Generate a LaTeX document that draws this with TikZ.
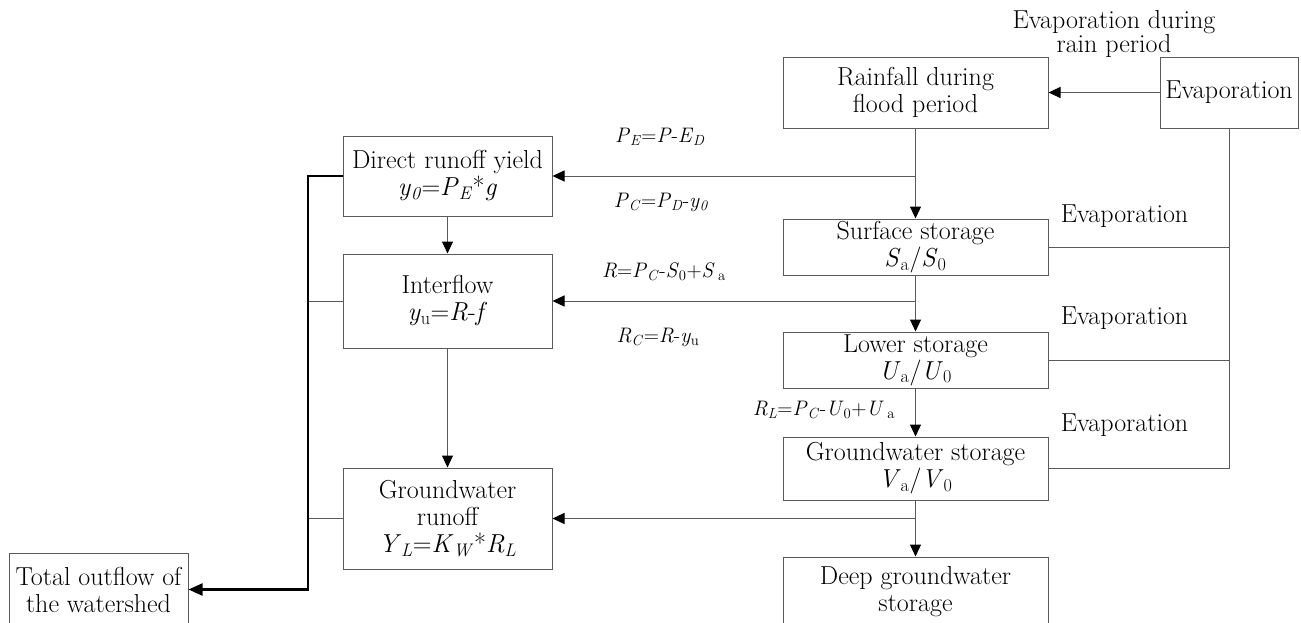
\documentclass[tikz,border=0pt]{standalone}
\usetikzlibrary{arrows.meta}
\definecolor{ln}{HTML}{5A5A5A}
\newcommand{\mi}[1]{\textit{#1}}
\newcommand{\msb}[1]{\textsubscript{#1}}
\begin{document}
\begin{tikzpicture}[x=1pt,y=-1pt,
  box/.style={draw=ln,line width=1pt,align=center,inner sep=0pt,font=\fontsize{26}{27}\selectfont},
  lbl/.style={align=center,inner sep=0pt,font=\fontsize{26}{24}\selectfont},
  flbl/.style={inner sep=0pt,font=\fontsize{21}{25}\selectfont},
  conn/.style={draw=ln,line width=1pt},
  arr/.style={conn,-{Triangle[length=12pt,width=11pt,color=black]}},
  thk/.style={draw=black,line width=2.2pt},
  thkarr/.style={thk,-{Triangle[length=14pt,width=12pt]}}]
\useasboundingbox (0,0) rectangle (1301,622);
% nodes
\node[box,minimum width=265pt,minimum height=71pt] (rain) at (915.5,92.5) {Rainfall during\\flood period};
\node[box,minimum width=138pt,minimum height=71pt] (evap) at (1229,92.5) {Evaporation};
\node[box,minimum width=265pt,minimum height=56pt] (surf) at (915.5,247) {Surface storage\\\mi{S}\msb{a}/\mi{S}\msb{0}};
\node[box,minimum width=265pt,minimum height=56pt] (lower) at (915.5,360) {Lower storage\\\mi{U}\msb{a}/\mi{U}\msb{0}};
\node[box,minimum width=265pt,minimum height=63pt] (gws) at (915.5,468.5) {Groundwater storage\\\mi{V}\msb{a}/\mi{V}\msb{0}};
\node[box,minimum width=265pt,minimum height=69pt] (deep) at (915.5,591.5) {Deep groundwater\\storage};
\node[box,minimum width=209pt,minimum height=80pt] (direct) at (447.5,176) {Direct runoff yield\\\mi{y}\msb{\mi{0}}=\mi{P}\msb{\mi{E}}*\mi{g}};
\node[box,minimum width=209pt,minimum height=94pt] (inter) at (447.5,301) {Interflow\\\mi{y}\msb{u}=\mi{R}-\mi{f}};
\node[box,minimum width=209pt,minimum height=101pt] (gwr) at (447.5,518.5) {Groundwater\\runoff\\\mi{Y}\msb{\mi{L}}=\mi{K}\msb{\mi{W}}*\mi{R}\msb{\mi{L}}};
\node[box,minimum width=179pt,minimum height=73pt] (total) at (98.5,589.5) {Total outflow of\\the watershed};
% labels
\node[lbl] (evrain) at (1114,34) {Evaporation during\\rain period};
\node[lbl] (ev1) at (1124.5,216) {Evaporation};
\node[lbl] (ev2) at (1124.5,318) {Evaporation};
\node[lbl] (ev3) at (1124.5,425) {Evaporation};
\node[flbl] (lpe) at (660,137) {\mi{P}\msb{\mi{E}}=\mi{P}-\mi{E}\msb{\mi{D}}};
\node[flbl] (lpc) at (661,202) {\mi{P}\msb{\mi{C}}=\mi{P}\msb{\mi{D}}-\mi{y}\msb{\mi{0}}};
\node[flbl] (lr) at (664,272) {\mi{R}=\mi{P}\msb{\mi{C}}-\mi{S}\msb{0}+\mi{S}\,\msb{a}};
\node[flbl] (lrc) at (658,337) {\mi{R}\msb{\mi{C}}=\mi{R}-\mi{y}\msb{u}};
\node[flbl] (lrl) at (824,410) {\mi{R}\msb{\mi{L}}=\mi{P}\msb{\mi{C}}-\mi{U}\msb{0}+\mi{U}\,\msb{a}};
% coordinates
\coordinate (j1) at (rain.south |- direct.east);
\coordinate (j2) at (surf.south |- inter.east);
\coordinate (j3) at (gws.south |- gwr.east);
\coordinate (ebot) at (evap.south |- gws.east);
\coordinate (c1) at (308,176);
\coordinate (c2) at (308,589.5);
\coordinate (c3) at (308,301);
\coordinate (c4) at (308,518.5);
% connectors
\draw[arr] (evap.west) -- (rain.east);
\draw[arr] (rain.south) -- (surf.north);
\draw[arr] (j1) -- (direct.east);
\draw[arr] (surf.south) -- (lower.north);
\draw[arr] (j2) -- (inter.east);
\draw[arr] (lower.south) -- (gws.north);
\draw[arr] (gws.south) -- (deep.north);
\draw[arr] (j3) -- (gwr.east);
\draw[arr] (direct.south) -- (inter.north);
\draw[arr] (inter.south) -- (gwr.north);
\draw[conn] (evap.south) -- (ebot) -- (gws.east);
\draw[conn] (surf.east) -- (surf.east -| evap.south);
\draw[conn] (lower.east) -- (lower.east -| evap.south);
\draw[conn] (inter.west) -- (c3);
\draw[conn] (gwr.west) -- (c4);
\draw[thkarr] (direct.west) -- (c1) -- (c2) -- (total.east);
\end{tikzpicture}
\end{document}
